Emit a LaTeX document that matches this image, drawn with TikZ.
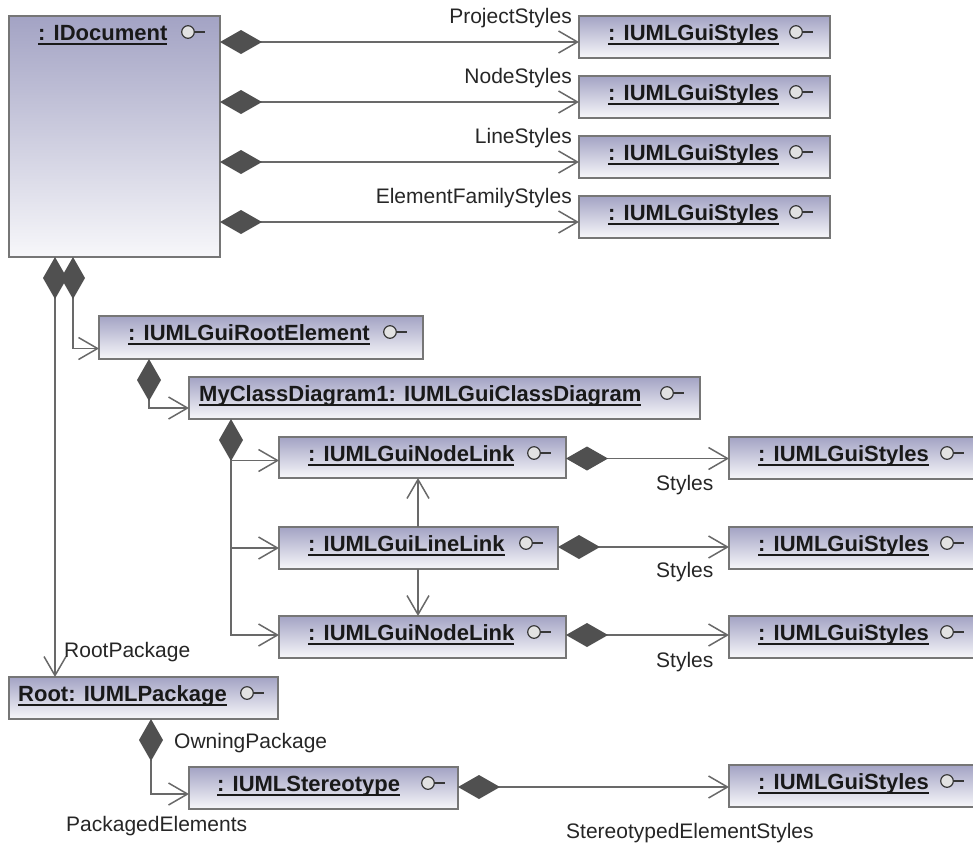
\documentclass[tikz,border=0pt]{standalone}
\usepackage{fontspec}
\setmainfont{Liberation Sans}
\usetikzlibrary{arrows.meta,calc}
\definecolor{boxtop}{RGB}{163,163,196}
\definecolor{boxbot}{RGB}{247,247,250}
\definecolor{boxline}{RGB}{118,118,118}
\definecolor{connc}{RGB}{105,105,105}
\definecolor{diac}{RGB}{80,80,80}
\definecolor{lollifill}{RGB}{226,226,226}
\definecolor{lolliline}{RGB}{55,55,55}
\newcommand\ulin[1]{\setbox0=\hbox{#1}\rlap{\rule[-4.5pt]{\wd0}{2pt}}\box0}
\tikzset{
 objbox/.style={draw=boxline, line width=1.8pt, top color=boxtop, bottom color=boxbot, inner sep=0pt, outer sep=0pt, anchor=north west},
 objtext/.style={inner sep=0pt, anchor=base west, font=\fontsize{22}{26}\selectfont\bfseries, text=black!90},
 lbl/.style={inner sep=0pt, anchor=base west, font=\fontsize{21}{25}\selectfont, text=black!85},
 connline/.style={draw=connc, line width=1.5pt},
 comp/.style={connline, {Diamond[length=42pt,width=24pt,fill=diac,color=diac]}-{Straight Barb[length=19pt,width=22pt]}},
 assoc/.style={connline, -{Straight Barb[length=19pt,width=22pt]}},
}
\newcommand\lolli[3]{%
 \draw[line width=2.8pt, draw=lolliline] ($(#1.north west)+(#2+6,#3)$) -- ++(11,0);
 \draw[line width=1.2pt, draw=lolliline, fill=lollifill] ($(#1.north west)+(#2,#3)$) circle (6.3);
}
\newcommand\umlobj[8]{%
 \node[objbox, minimum width=#4pt, minimum height=#5pt] (#1) at (#2,#3) {};
 \node[objtext] (#1-t) at ($(#1.north west)+(#7,24)$) {\ulin{#6}};
 \lolli{#1}{#8}{16}
}
\begin{document}
\begin{tikzpicture}[x=1pt,y=-1pt]
\useasboundingbox (0,0) rectangle (973,844);
\clip (0,0) rectangle (973,844);
% objects
\umlobj{doc}{9}{16}{211}{241}{: IDocument}{29}{179}
\umlobj{s1}{579}{16}{251}{42}{: IUMLGuiStyles}{29}{217}
\umlobj{s2}{579}{76}{251}{42}{: IUMLGuiStyles}{29}{217}
\umlobj{s3}{579}{136}{251}{42}{: IUMLGuiStyles}{29}{217}
\umlobj{s4}{579}{196}{251}{42}{: IUMLGuiStyles}{29}{217}
\umlobj{root}{99}{316}{324}{43}{: IUMLGuiRootElement}{29}{291}
\umlobj{cd}{189}{377}{511}{42}{MyClassDiagram1: IUMLGuiClassDiagram}{10}{478}
\umlobj{nl1}{279}{437}{287}{41}{: IUMLGuiNodeLink}{29}{255}
\umlobj{ll}{279}{527}{279}{42}{: IUMLGuiLineLink}{29}{247}
\umlobj{nl2}{279}{616}{287}{42}{: IUMLGuiNodeLink}{29}{255}
\umlobj{rs1}{729}{437}{270}{42}{: IUMLGuiStyles}{29}{218}
\umlobj{rs2}{729}{527}{270}{42}{: IUMLGuiStyles}{29}{218}
\umlobj{rs3}{729}{616}{270}{42}{: IUMLGuiStyles}{29}{218}
\umlobj{pkg}{9}{677}{269}{42}{Root: IUMLPackage}{9}{238}
\umlobj{st}{189}{767}{269}{42}{: IUMLStereotype}{28}{239}
\umlobj{rs4}{729}{765}{270}{42}{: IUMLGuiStyles}{29}{218}
% top connectors
\foreach \i in {1,...,4}{
 \coordinate (s\i in) at ($(s\i.west)+(0,5)$);
 \draw[comp] (doc.east |- s\i in) -- (s\i in);
}
\node[lbl, anchor=base east] (l1) at (572,23) {ProjectStyles};
\node[lbl, anchor=base east] (l2) at (572,83) {NodeStyles};
\node[lbl, anchor=base east] (l3) at (572,143) {LineStyles};
\node[lbl, anchor=base east] (l4) at (572,203) {ElementFamilyStyles};
% from IDocument downwards
\coordinate (dA) at ($(doc.south west)+(46,0)$);
\draw[comp] (dA) -- (dA |- pkg.north);
\draw[comp] ($(doc.south west)+(64,0)$) |- ($(root.west)+(0,11)$);
\node[lbl] (l5) at (64,657) {RootPackage};
% root element -> class diagram
\draw[comp] ($(root.south west)+(50,0)$) |- ($(cd.west)+(0,10)$);
% class diagram -> links
\coordinate (cdA) at ($(cd.south west)+(42,0)$);
\draw[comp] (cdA) |- ($(nl1.west)+(0,3)$);
\draw[assoc] ($(cdA)+(0,41)$) |- ($(nl2.west)+(0,-2)$);
\draw[assoc] (cdA |- ll.west) -- (ll.west);
% between links
\draw[assoc] ($(ll.north west)+(139,0)$) -- ($(nl1.south west)+(139,0)$);
\draw[assoc] ($(ll.south west)+(139,0)$) -- ($(nl2.north west)+(139,0)$);
% links -> styles
\draw[comp] ($(nl1.east)+(0,1)$) -- ($(nl1.east -| rs1.west)+(0,1)$);
\draw[comp] ($(ll.east)+(0,-1)$) -- ($(ll.east -| rs2.west)+(0,-1)$);
\draw[comp] ($(nl2.east)+(0,-2)$) -- ($(nl2.east -| rs3.west)+(0,-2)$);
\node[lbl] (l6) at (656,490) {Styles};
\node[lbl] (l7) at (656,577) {Styles};
\node[lbl] (l8) at (656,667) {Styles};
% package -> stereotype
\draw[comp] ($(pkg.south west)+(142,0)$) |- ($(st.west)+(0,6)$);
\node[lbl] (l9) at (174,748) {OwningPackage};
\node[lbl] (l10) at (66,831) {PackagedElements};
\draw[comp] ($(st.east)+(0,-1)$) -- ($(st.east -| rs4.west)+(0,-1)$);
\node[lbl] (l11) at (566,838) {StereotypedElementStyles};
\end{tikzpicture}
\end{document}
